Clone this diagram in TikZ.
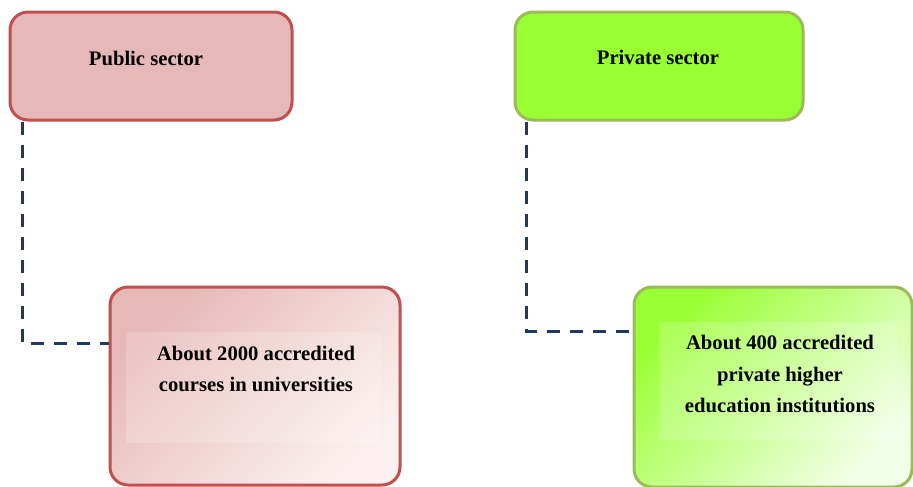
\documentclass[tikz,border=0pt]{standalone}
\usepackage{fontspec}
\setmainfont{Liberation Serif}
\usetikzlibrary{positioning}

\definecolor{pubEdge}{HTML}{C0504D}
\definecolor{pubFill}{HTML}{E6B8B7}
\definecolor{pubPale}{HTML}{FBF0EF}
\definecolor{privEdge}{HTML}{9BBB59}
\definecolor{privFill}{HTML}{99FF33}
\definecolor{privPale}{HTML}{F2FFE8}
\definecolor{linkCol}{HTML}{1F3A5F}

\begin{document}
\begin{tikzpicture}[x=0.75pt, y=-0.75pt]

% GLOBAL SETTINGS
\newlength{\unitpx}
\setlength{\unitpx}{0.75pt}
\newcommand{\txtfont}{\fontsize{15.5}{23.5}\selectfont\rmfamily\bfseries}
\tikzset{
  box/.style={rectangle, line width=3\unitpx, rounded corners=18\unitpx, inner sep=0pt},
  head/.style={box, minimum height=108\unitpx},
  info/.style={box, minimum height=198\unitpx},
  txt/.style={font=\txtfont, align=center, inner sep=0pt},
  panel/.style={fill=white, fill opacity=0.18},
  link/.style={draw=linkCol, line width=3\unitpx, dash pattern=on 13\unitpx off 10\unitpx}
}
\useasboundingbox (0,0) rectangle (913,486);

% SECTOR BOXES
\node[head, draw=pubEdge, fill=pubFill, minimum width=282\unitpx] (pub) at (151,66) {};
\node[head, draw=privEdge, fill=privFill, minimum width=288\unitpx] (priv) at (659,66) {};
\node[txt] (pubLbl) at ([shift={(-5,-8)}]pub.center) {Public sector};
\node[txt] (privLbl) at ([shift={(-1,-9)}]priv.center) {Private sector};

% INFO BOXES
\node[info, draw=pubEdge, left color=pubFill, right color=pubPale, shading angle=45,
  minimum width=290\unitpx] (pubInfo) at (255,386) {};
\node[info, draw=privEdge, left color=privFill, right color=privPale, shading angle=45,
  minimum width=278\unitpx, minimum height=200\unitpx] (privInfo) at (773,387) {};
\fill[panel] ([shift={(17,46)}]pubInfo.north west) rectangle ++(255,111);
\fill[panel] ([shift={(26,36)}]privInfo.north west) rectangle ++(238,118);
\node[txt] (pubTxt) at ([shift={(1,-17)}]pubInfo.center) {About 2000 accredited\\courses in universities};
\node[txt] (privTxt) at ([shift={(7,-13)}]privInfo.center) {About 400 accredited\\private higher\\education institutions};

% LINKS
\draw[link] ([xshift=14\unitpx]pub.south west) |- ([yshift=-58\unitpx]pubInfo.north west);
\draw[link] ([xshift=13\unitpx]priv.south west) |- ([yshift=-46\unitpx]privInfo.north west);

\end{tikzpicture}
\end{document}
